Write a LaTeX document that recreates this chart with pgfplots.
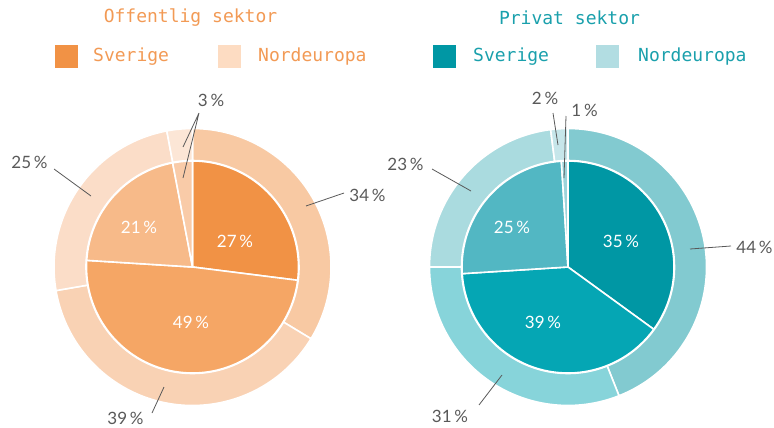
\documentclass[border=0pt]{standalone}
\usepackage{pgfplots}
\usepackage{pgfplotstable}
\pgfplotsset{compat=1.18}
\usepackage{fontspec}
\newfontfamily\monof{DejaVu Sans Mono}
\newfontfamily\labf{Lato}

\definecolor{otitle}{HTML}{F29A55}
\definecolor{ttitle}{HTML}{1AA0AC}
\definecolor{offin1}{HTML}{F19245}
\definecolor{offin2}{HTML}{F5A665}
\definecolor{offin3}{HTML}{F7BA89}
\definecolor{offin4}{HTML}{F9CBA8}
\definecolor{offout1}{HTML}{F8C9A3}
\definecolor{offout2}{HTML}{F9D2B4}
\definecolor{offout3}{HTML}{FBDDC8}
\definecolor{offout4}{HTML}{FCE6D6}
\definecolor{priin1}{HTML}{0097A4}
\definecolor{priin2}{HTML}{05A6B4}
\definecolor{priin3}{HTML}{52B7C3}
\definecolor{priin4}{HTML}{9DD4DA}
\definecolor{priout1}{HTML}{82CAD0}
\definecolor{priout2}{HTML}{87D4DA}
\definecolor{priout3}{HTML}{AADBDF}
\definecolor{priout4}{HTML}{C6E6EA}
\definecolor{offleg}{HTML}{FDDCC2}
\definecolor{prileg}{HTML}{B2DDE2}
\definecolor{labgray}{HTML}{595959}

% shares, clockwise from 12 o'clock
\pgfplotstableread{
slice offse offne prise prine
1 27 34 35 44
2 49 39 39 31
3 21 25 25 23
4 3 3 1 2
}\pies

% #1 column, #2 cx, #3 cy, #4 Rin (0 = pie), #5 Rout, #6 colour prefix
\newcommand\drawring[6]{%
  \def\tot{0}%
  \pgfplotsforeachungrouped \i in {0,1,2,3}{%
    \pgfplotstablegetelem{\i}{#1}\of\pies
    \pgfmathsetmacro\tot{\tot+\pgfplotsretval}%
  }%
  \def\cum{0}%
  \pgfmathsetmacro\dr{#5-#4}%
  \pgfplotsforeachungrouped \i in {0,1,2,3}{%
    \pgfplotstablegetelem{\i}{#1}\of\pies
    \pgfmathsetmacro\aS{90-360*(\cum/\tot)}%
    \pgfmathsetmacro\cum{\cum+\pgfplotsretval}%
    \pgfmathsetmacro\aE{90-360*(\cum/\tot)}%
    \pgfmathtruncatemacro\k{\i+1}%
    \ifdim #4pt=0pt
      \edef\temp{\noexpand\fill[#6\k, draw=white, line width=1.6pt, line join=round] (axis cs:#2,#3) -- ++(\aS:#5pt) arc[start angle=\aS, end angle=\aE, radius=#5pt] -- cycle;}%
    \else
      \edef\temp{\noexpand\fill[#6\k, draw=white, line width=1.6pt] (axis cs:#2,#3) ++(\aS:#4pt) arc[start angle=\aS, end angle=\aE, radius=#4pt] -- ++(\aE:\dr pt) arc[start angle=\aE, end angle=\aS, radius=#5pt] -- cycle;}%
    \fi
    \temp
  }%
}

\begin{document}
\begin{tikzpicture}
\begin{axis}[scale only axis, width=774pt, height=428pt,
  xmin=0, xmax=774, ymin=0, ymax=428, y dir=reverse,
  hide axis, clip=false]
\path (axis cs:0,0) rectangle (axis cs:774,428);

% rings and pies
\drawring{offne}{192.5}{267}{106.5}{138.5}{offout}
\drawring{offse}{192.5}{267}{0}{106}{offin}
\drawring{prine}{568}{267}{106.5}{138.5}{priout}
\drawring{prise}{568}{267}{0}{106}{priin}

% titles
\tikzset{mono/.style={font=\monof\fontsize{18}{20}\selectfont}}
\node[text=otitle, mono] at (axis cs:190.5,18) {Offentlig sektor};
\node[text=ttitle, mono] at (axis cs:569.5,18) {Privat sektor};

% legends
\node[fill=offin1, minimum size=23pt, inner sep=0pt] at (axis cs:66.5,56.5) {};
\node[anchor=west, text=otitle, mono, inner sep=0pt] at (axis cs:93,57) {Sverige};
\node[fill=offleg, minimum size=23pt, inner sep=0pt] at (axis cs:229.5,56.5) {};
\node[anchor=west, text=otitle, mono, inner sep=0pt] at (axis cs:258,57) {Nordeuropa};
\node[fill=priin1, minimum size=23pt, inner sep=0pt] at (axis cs:444.5,56.5) {};
\node[anchor=west, text=ttitle, mono, inner sep=0pt] at (axis cs:473,57) {Sverige};
\node[fill=prileg, minimum size=23pt, inner sep=0pt] at (axis cs:607.5,56.5) {};
\node[anchor=west, text=ttitle, mono, inner sep=0pt] at (axis cs:638,57) {Nordeuropa};

% leader lines
\draw[labgray, line width=0.8pt] (axis cs:54,169) -- (axis cs:91,196);
\draw[labgray, line width=0.8pt] (axis cs:344,193) -- (axis cs:306,206);
\draw[labgray, line width=0.8pt] (axis cs:152,413) -- (axis cs:164,387);
\draw[labgray, line width=0.8pt] (axis cs:183,147) -- (axis cs:199,113) -- (axis cs:183,178);
\draw[labgray, line width=0.8pt] (axis cs:553,113) -- (axis cs:558,145);
\draw[labgray, line width=0.8pt] (axis cs:566,116) -- (axis cs:564,178);
\draw[labgray, line width=0.8pt] (axis cs:432,169) -- (axis cs:471,191);
\draw[labgray, line width=0.8pt] (axis cs:731,246) -- (axis cs:690,249);
\draw[labgray, line width=0.8pt] (axis cs:479,405) -- (axis cs:502,375);

% outer labels
\tikzset{lab/.style={text=labgray, font=\labf\fontsize{17}{20}\selectfont, inner sep=0pt}}
\tikzset{inl/.style={text=white, font=\labf\fontsize{17}{20}\selectfont, inner sep=0pt}}
\node[lab] at (axis cs:211,100) {3\,\%};
\node[lab] at (axis cs:29.5,162) {25\,\%};
\node[lab] at (axis cs:367.5,195) {34\,\%};
\node[lab] at (axis cs:125.5,418) {39\,\%};
\node[lab] at (axis cs:545,98) {2\,\%};
\node[lab] at (axis cs:584.5,110) {1\,\%};
\node[lab] at (axis cs:405.5,164) {23\,\%};
\node[lab] at (axis cs:754.5,247) {44\,\%};
\node[lab] at (axis cs:450,416) {31\,\%};
% inner labels
\node[inl] at (axis cs:235,241) {27\,\%};
\node[inl] at (axis cs:139,227) {21\,\%};
\node[inl] at (axis cs:191,322) {49\,\%};
\node[inl] at (axis cs:512,227) {25\,\%};
\node[inl] at (axis cs:621,241) {35\,\%};
\node[inl] at (axis cs:543,322) {39\,\%};
\end{axis}
\end{tikzpicture}
\end{document}
